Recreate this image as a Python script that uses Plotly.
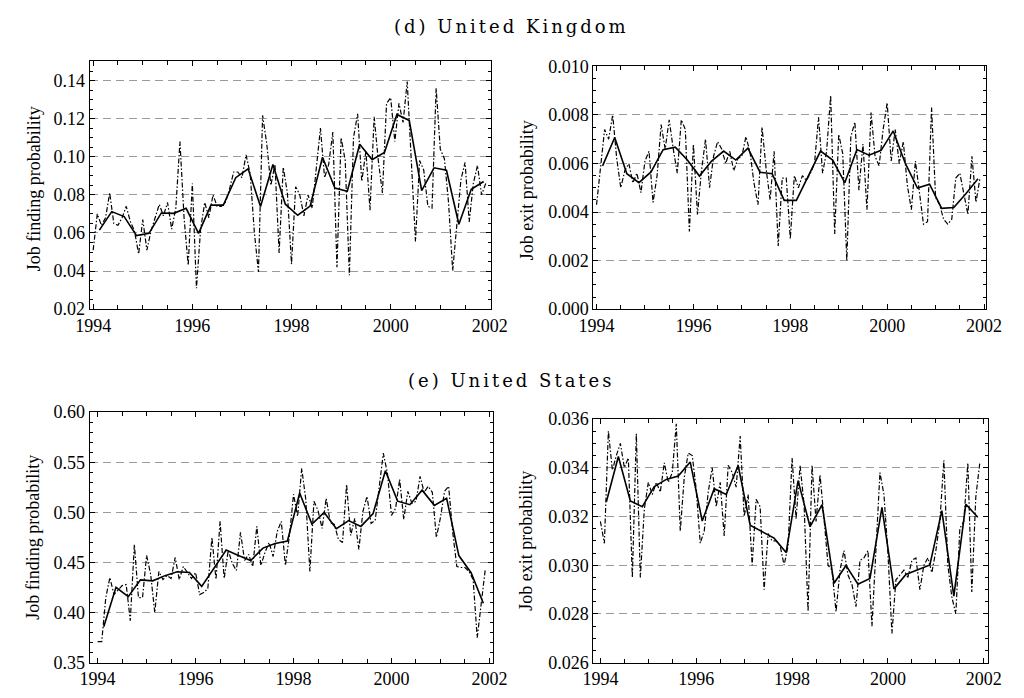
import plotly.graph_objects as go

# ---------------- data ----------------
start_year = 1994
n_months = 96
n_quarters = 32

uk_find_monthly = [
    0.051, 0.070, 0.064, 0.068, 0.081, 0.065, 0.064, 0.068, 0.074, 0.066, 0.061, 0.049,
    0.067, 0.051, 0.061, 0.068, 0.075, 0.069, 0.076, 0.062, 0.073, 0.108, 0.068, 0.043,
    0.086, 0.031, 0.062, 0.076, 0.068, 0.080, 0.074, 0.074, 0.076, 0.083, 0.092, 0.092,
    0.089, 0.101, 0.091, 0.0605, 0.0395, 0.1217, 0.107, 0.085, 0.096, 0.0495, 0.0945, 0.081,
    0.0436, 0.0843, 0.080, 0.069, 0.080, 0.073, 0.095, 0.115, 0.089, 0.096, 0.113, 0.042,
    0.110, 0.098, 0.0378, 0.110, 0.1225, 0.087, 0.103, 0.072, 0.121, 0.098, 0.081, 0.128,
    0.131, 0.108, 0.128, 0.118, 0.1395, 0.100, 0.0555, 0.098, 0.093, 0.074, 0.073, 0.136,
    0.104, 0.099, 0.076, 0.0402, 0.065, 0.088, 0.097, 0.0658, 0.086, 0.0954, 0.080, 0.086,
]
uk_find_quarterly = [
    0.0615, 0.0712, 0.0686, 0.0586, 0.0598, 0.0705, 0.0703, 0.0729,
    0.0598, 0.0746, 0.0746, 0.0890, 0.0937, 0.0739, 0.0959, 0.0751,
    0.0693, 0.0741, 0.0997, 0.0836, 0.0819, 0.1066, 0.0985, 0.1022,
    0.1222, 0.1190, 0.0822, 0.0942, 0.0929, 0.0646, 0.0829, 0.0870,
]

uk_exit_monthly = [
    0.0043, 0.0060, 0.0074, 0.0070, 0.0080, 0.0062, 0.0050, 0.0057, 0.0060, 0.0052, 0.0056, 0.0048,
    0.0061, 0.0065, 0.0044, 0.0055, 0.0076, 0.0066, 0.0078, 0.0066, 0.0056, 0.0078, 0.0074, 0.0032,
    0.0068, 0.0039, 0.0057, 0.0070, 0.0050, 0.0063, 0.0069, 0.0066, 0.0060, 0.0065, 0.0057, 0.0062,
    0.0063, 0.0071, 0.0065, 0.0052, 0.0043, 0.0075, 0.0058, 0.0045, 0.0065, 0.0026, 0.0054, 0.0054,
    0.0029, 0.0055, 0.0050, 0.0055, 0.0053, 0.0056, 0.0060, 0.0079, 0.0056, 0.0065, 0.0088, 0.0031,
    0.0072, 0.0064, 0.0020, 0.0071, 0.0077, 0.0049, 0.0068, 0.0041, 0.0081, 0.0063, 0.0059, 0.0074,
    0.0085, 0.0061, 0.0074, 0.0060, 0.0069, 0.0051, 0.0041, 0.0061, 0.0048, 0.0035, 0.0036, 0.0083,
    0.0046, 0.0043, 0.0037, 0.0035, 0.0037, 0.0054, 0.0056, 0.0048, 0.0039, 0.0063, 0.0044, 0.0054,
]
uk_exit_quarterly = [
    0.00590, 0.00707, 0.00558, 0.00521, 0.00565, 0.00657, 0.00667, 0.00614,
    0.00548, 0.00610, 0.00651, 0.00614, 0.00663, 0.00564, 0.00558, 0.00448,
    0.00448, 0.00548, 0.00651, 0.00614, 0.00521, 0.00657, 0.00634, 0.00654,
    0.00734, 0.00600, 0.00499, 0.00515, 0.00415, 0.00419, 0.00475, 0.00537,
]

us_find_monthly = [
    0.371, 0.371, 0.415, 0.435, 0.418, 0.423, 0.427, 0.428, 0.392, 0.468, 0.415, 0.415,
    0.457, 0.438, 0.400, 0.441, 0.433, 0.437, 0.434, 0.455, 0.433, 0.446, 0.440, 0.434,
    0.440, 0.418, 0.420, 0.424, 0.475, 0.433, 0.491, 0.434, 0.462, 0.449, 0.442, 0.480,
    0.452, 0.458, 0.446, 0.486, 0.447, 0.460, 0.470, 0.456, 0.481, 0.491, 0.447, 0.477,
    0.518, 0.496, 0.544, 0.513, 0.441, 0.511, 0.502, 0.484, 0.514, 0.490, 0.488, 0.473,
    0.470, 0.528, 0.477, 0.494, 0.463, 0.501, 0.516, 0.489, 0.492, 0.527, 0.559, 0.539,
    0.497, 0.504, 0.533, 0.493, 0.521, 0.509, 0.511, 0.536, 0.520, 0.526, 0.520, 0.475,
    0.495, 0.521, 0.526, 0.480, 0.446, 0.445, 0.445, 0.441, 0.433, 0.375, 0.409, 0.444,
]
us_find_quarterly = [
    0.3858, 0.4252, 0.4159, 0.4327, 0.4317, 0.4369, 0.4408, 0.4401,
    0.4262, 0.4440, 0.4624, 0.4570, 0.4520, 0.4644, 0.4689, 0.4715,
    0.5193, 0.4883, 0.4999, 0.4837, 0.4918, 0.4860, 0.4989, 0.5416,
    0.5112, 0.5077, 0.5222, 0.5070, 0.5141, 0.4569, 0.4398, 0.4094,
]

us_exit_monthly = [
    0.0318, 0.0309, 0.0355, 0.0339, 0.0345, 0.0350, 0.0340, 0.0344, 0.0295, 0.0354, 0.0295, 0.0323,
    0.0334, 0.0329, 0.0334, 0.0330, 0.0342, 0.0334, 0.0338, 0.0358, 0.0314, 0.0336, 0.0346, 0.0345,
    0.0331, 0.0309, 0.0314, 0.0330, 0.0340, 0.0324, 0.0334, 0.0312, 0.0341, 0.0338, 0.0332, 0.0353,
    0.0320, 0.0329, 0.0300, 0.0327, 0.0324, 0.0290, 0.0313, 0.0310, 0.0310, 0.0308, 0.0300, 0.0308,
    0.0344, 0.0319, 0.0341, 0.0325, 0.0281, 0.0341, 0.0318, 0.0337, 0.0319, 0.0300, 0.0298, 0.0281,
    0.0298, 0.0306, 0.0296, 0.0292, 0.0283, 0.0302, 0.0303, 0.0306, 0.0275, 0.0304, 0.0338, 0.0329,
    0.0305, 0.0272, 0.0294, 0.0296, 0.0298, 0.0295, 0.0302, 0.0303, 0.0290, 0.0300, 0.0303, 0.0297,
    0.0306, 0.0318, 0.0343, 0.0300, 0.0287, 0.0280, 0.0315, 0.0318, 0.0342, 0.0289, 0.0328, 0.0342,
]
us_exit_quarterly = [
    0.03260, 0.03446, 0.03264, 0.03240, 0.03323, 0.03352, 0.03366, 0.03423,
    0.03181, 0.03314, 0.03290, 0.03409, 0.03164, 0.03138, 0.03111, 0.03052,
    0.03347, 0.03158, 0.03248, 0.02926, 0.02999, 0.02922, 0.02946, 0.03237,
    0.02903, 0.02962, 0.02983, 0.03001, 0.03224, 0.02873, 0.03250, 0.03197,
]

year_ticks = [1994, 1996, 1998, 2000, 2002]
titles = ["(d) United Kingdom", "(e) United States"]
ylabel_find = "Job finding probability"
ylabel_exit = "Job exit probability"

# time positions (decimal years): months at start of month, quarters at mid-quarter
x_month = [start_year + k / 12 for k in range(n_months)]
x_quarter = [start_year + q / 4 + 0.125 for q in range(n_quarters)]

W, H = 1024, 698


def px(x):
    return x / W


def py(y):
    return 1 - y / H


# panel frames in pixels: (left, right, top, bottom)
panels = [
    dict(frame=(77, 491, 53, 308), xr=[1993.928, 2002.016], yr=[0.02, 0.15], dt=0.02, minor=0.005,
         fmt=".2f", m=uk_find_monthly, q=uk_find_quarterly),
    dict(frame=(597, 1002, 58, 308), xr=[1993.934, 2002.034], yr=[0.0, 0.010], dt=0.002, minor=0.0005,
         fmt=".3f", m=uk_exit_monthly, q=uk_exit_quarterly),
    dict(frame=(77, 493, 414, 672), xr=[1993.836, 2002.064], yr=[0.35, 0.60], dt=0.05, minor=0.01,
         fmt=".2f", m=us_find_monthly, q=us_find_quarterly),
    dict(frame=(597, 1004, 421, 672), xr=[1993.853, 2002.08], yr=[0.026, 0.036], dt=0.002, minor=0.0005,
         fmt=".3f", m=us_exit_monthly, q=us_exit_quarterly),
]

FONT = "Liberation Serif"
TICK_SIZE = 18
fig = go.Figure()
layout = dict(
    width=W, height=H, margin=dict(l=0, r=0, t=0, b=0),
    paper_bgcolor="white", plot_bgcolor="white", showlegend=False,
    font=dict(family=FONT, size=TICK_SIZE, color="black"),
)

for i, p in enumerate(panels):
    n = "" if i == 0 else str(i + 1)
    xa, ya = "x" + n, "y" + n
    fig.add_trace(go.Scatter(x=x_month, y=p["m"], mode="lines", xaxis=xa, yaxis=ya,
                             line=dict(color="black", width=1.2, dash="5px,2px,1.5px,2px"),
                             hoverinfo="skip"))
    fig.add_trace(go.Scatter(x=x_quarter, y=p["q"], mode="lines", xaxis=xa, yaxis=ya,
                             line=dict(color="black", width=1.6), hoverinfo="skip"))
    l, r, t, b = p["frame"]
    layout["xaxis" + n] = dict(
        domain=[px(l), px(r)], range=p["xr"], anchor=ya,
        tickmode="array", tickvals=year_ticks, ticktext=[str(v) for v in year_ticks],
        ticks="inside", ticklen=5, tickcolor="black", tickwidth=1,
        minor=dict(dtick=0.5, tick0=1994, ticks="inside", ticklen=4, tickcolor="black", showgrid=False),
        showline=True, linecolor="black", linewidth=1, mirror="ticks",
        showgrid=False, zeroline=False, tickfont=dict(family=FONT, size=TICK_SIZE, color="black"),
    )
    layout["yaxis" + n] = dict(
        domain=[py(b), py(t)], range=p["yr"], anchor=xa,
        tick0=p["yr"][0], dtick=p["dt"], tickformat=p["fmt"],
        ticks="inside", ticklen=5, tickcolor="black", tickwidth=1,
        minor=dict(dtick=p["minor"], tick0=p["yr"][0], ticks="inside", ticklen=3, tickcolor="black", showgrid=False),
        showline=True, linecolor="black", linewidth=1, mirror="ticks",
        showgrid=True, gridcolor="#9a9a9a", gridwidth=1, griddash="8px,5px",
        zeroline=False, tickfont=dict(family=FONT, size=TICK_SIZE, color="black"),
    )

annotations = []
for txt, yc in [(titles[0], 17), (titles[1], 381)]:
    annotations.append(dict(text='<span style="letter-spacing:3px">' + txt + '</span>',
                            x=px(513), y=py(yc), xref="paper", yref="paper",
                            xanchor="center", yanchor="middle",
                            showarrow=False, font=dict(family="DejaVu Serif", size=18, color="black")))
for (xc, yc, txt) in [(19, 184, ylabel_find), (528, 186, ylabel_exit),
                      (19, 543, ylabel_find), (528, 547, ylabel_exit)]:
    annotations.append(dict(text=txt, x=px(xc), y=py(yc), xref="paper", yref="paper",
                            xanchor="center", yanchor="middle",
                            showarrow=False, textangle=-90,
                            font=dict(family=FONT, size=18, color="black")))
layout["annotations"] = annotations

fig.update_layout(**layout)
fig.write_html("out.html")
